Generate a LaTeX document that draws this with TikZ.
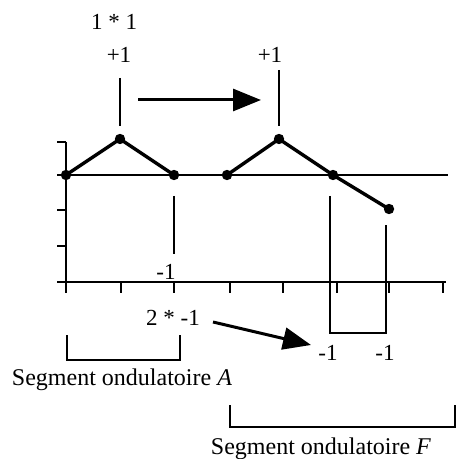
\documentclass[tikz,border=0pt]{standalone}
\usepackage{fontspec}
\setmainfont{Liberation Serif}
\usetikzlibrary{arrows.meta}

\begin{document}
\begin{tikzpicture}[x=0.5pt, y=-0.5pt,
    axis/.style={line width=1.1pt},
    wave/.style={line width=1.7pt},
    dot/.style={circle, fill, inner sep=0pt, minimum size=5.2pt},
    marker/.style={line width=1.1pt},
    bigarr/.style={-{Triangle[length=14pt, width=11pt]}, line width=1.5pt},
    lbl/.style={font=\fontsize{11.5}{13}\selectfont, inner sep=1pt},
    seg/.style={font=\fontsize{12}{14}\selectfont, inner sep=0pt},
]
\useasboundingbox (0,0) rectangle (457,459);

% Axes and ticks
\draw[axis] (66,142) -- (66,293);
\draw[axis] (57,282) -- (446,282);
\draw[axis] (57,175) -- (448,175);
\foreach \y in {142,210,246} \draw[axis] (57,\y) -- (66,\y);
\foreach \x in {121,174,230,283,337,389,443} \draw[axis] (\x,282) -- (\x,293);

% Wave points
\coordinate (d1) at (66,175);
\coordinate (d2) at (120,139);
\coordinate (d3) at (174,175);
\coordinate (d4) at (227,175);
\coordinate (d5) at (279,139);
\coordinate (d6) at (333,175);
\coordinate (d7) at (389,209);

\draw[wave] (d1) -- (d2) -- (d3);
\draw[wave] (d4) -- (d5) -- (d6) -- (d7);
\foreach \p in {d1,d2,d3,d4,d5,d6,d7} \node[dot] at (\p) {};

% Markers
\draw[marker] (120,78) -- (120,126);
\draw[marker] (279,70) -- (279,126);
\draw[marker] (174,196) -- (174,254);
\draw[marker] (330,196) -- (330,333) -- (386,333) -- (386,225);

% Labels
\node[lbl] (prod1) at (114,22) {1 * 1};
\node[lbl] (up1) at (119,55) {+1};
\node[lbl] (up2) at (270,55) {+1};
\node[lbl] (dn1) at (166,272) {-1};
\node[lbl] (prod2) at (173,318) {2 * -1};
\node[lbl] (dn2) at (328,353) {-1};
\node[lbl] (dn3) at (385,353) {-1};

% Arrows
\coordinate (a1) at (138,100);
\coordinate (a2) at (261,100);
\draw[bigarr] (a1) -- (a2);
\coordinate (b1) at (213,322);
\coordinate (b2) at (311,345);
\draw[bigarr] (b1) -- (b2);

% Segments
\draw[axis] (67,335) -- (67,360) -- (180,360) -- (180,335);
\node[seg] (segA) at (122,380) {Segment ondulatoire \textit{A}};
\draw[axis] (230,405) -- (230,427) -- (455,427) -- (455,405);
\node[seg] (segF) at (321,449) {Segment ondulatoire \textit{F}};

\end{tikzpicture}
\end{document}
